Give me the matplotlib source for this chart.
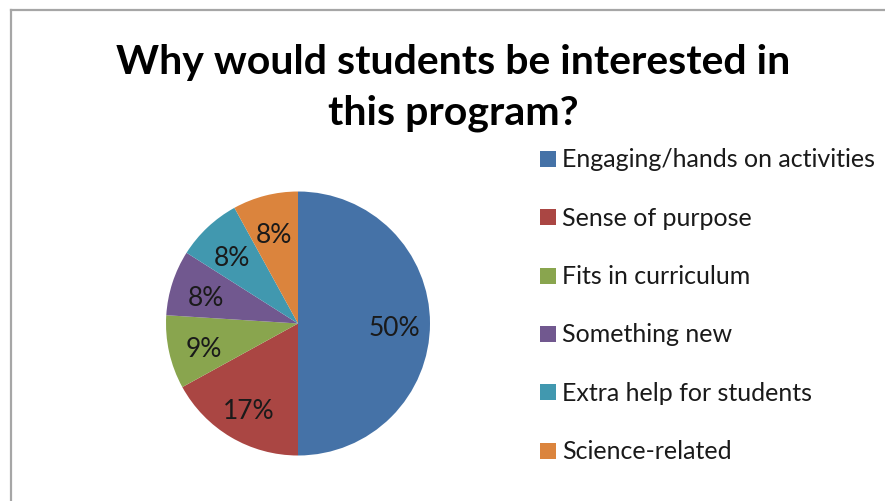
import matplotlib
matplotlib.use("Agg")
import matplotlib.pyplot as plt
from matplotlib.patches import Rectangle
from matplotlib.lines import Line2D

# Survey answers, in the order they run clockwise from 12 o'clock
reasons = [
    "Engaging/hands on activities",
    "Sense of purpose",
    "Fits in curriculum",
    "Something new",
    "Extra help for students",
    "Science-related",
]
shares = [50, 17, 9, 8, 8, 8]
colors = ["#4572A7", "#AA4643", "#89A54E", "#71588F", "#4198AF", "#DB843D"]

TITLE_LINES = ["Why would students be interested in", "this program?"]

W, H = 885, 502
FONT = ["Lato", "DejaVu Sans"]

fig = plt.figure(figsize=(W / 100, H / 100), dpi=100)
fig.patch.set_facecolor("white")

# chart frame: only the left and top edges fall inside the canvas
fig.add_artist(Line2D([10.5 / W, 10.5 / W], [0, 1 - 11 / H],
                      transform=fig.transFigure, color="#a6a6a6", lw=1.6))
fig.add_artist(Line2D([10.5 / W, 1], [1 - 11 / H, 1 - 11 / H],
                      transform=fig.transFigure, color="#a6a6a6", lw=1.6))

# pie, centre (298, 324) px, radius ~132 px
cx, cy, r = 298, 324.5, 132
ax = fig.add_axes([(cx - r) / W, (H - cy - r) / H, 2 * r / W, 2 * r / H])
wedges, _, autotexts = ax.pie(
    shares, colors=colors, startangle=90, counterclock=False,
    autopct=lambda p: f"{p:.0f}%", pctdistance=0.73,
    wedgeprops=dict(linewidth=0),
    textprops=dict(fontsize=19, family=FONT, color="#1a1a1a"))
for t in autotexts:
    x, y = t.get_position()
    t.set_position((x, y - 0.03))
ax.set_xlim(-1, 1)
ax.set_ylim(-1, 1)
ax.set_aspect("equal")
ax.axis("off")

# two-line bold title, placed by baseline
for line, base in zip(TITLE_LINES, [74, 125]):
    fig.text(453 / W, 1 - base / H, line, ha="center", va="baseline",
             fontsize=29.5, fontweight="bold", family=FONT, color="black")

# legend, drawn as swatches + labels down the right side
row_y = [160, 218.3, 276.6, 335, 393.3, 451.6]
for name, col, y in zip(reasons, colors, row_y):
    fig.add_artist(Rectangle((540 / W, 1 - (y + 8) / H), 16 / W, 16 / H,
                             transform=fig.transFigure, facecolor=col,
                             edgecolor="none"))
    fig.text(562 / W, 1 - y / H, name, ha="left", va="center",
             fontsize=18, family=FONT, color="#1a1a1a")

fig.savefig("out.png", dpi=100)
